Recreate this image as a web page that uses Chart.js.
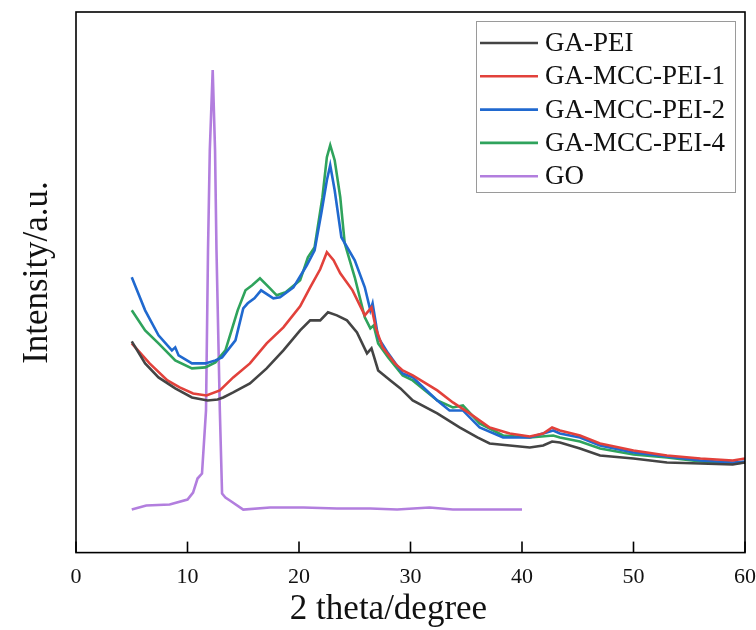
<!DOCTYPE html>
<html><head><meta charset="utf-8">
<script src="https://cdn.jsdelivr.net/npm/chart.js@4"></script>
<style>html,body{margin:0;padding:0;background:#fff}#wrap{width:756px;height:630px;position:relative}</style>
</head><body><div id="wrap"><canvas id="c"></canvas></div>
<script>
const seriesNames = ['GA-PEI', 'GA-MCC-PEI-1', 'GA-MCC-PEI-2', 'GA-MCC-PEI-4', 'GO'];
const seriesColors = ['#444444', '#e2413b', '#2069cf', '#2fa35c', '#b27ede'];
const xTicks = [0, 10, 20, 30, 40, 50, 60];
const xTitle = '2 theta/degree';
const yTitle = 'Intensity/a.u.';

const gaPeiX = [5.0, 6.2, 7.4, 8.9, 10.4, 11.8, 12.7, 13.2, 14.1, 15.6, 17.1, 18.6, 20.1, 21.0, 21.9, 22.6, 23.4, 24.3, 25.2, 26.1, 26.5, 27.1, 28.2, 29.1, 30.2, 32.4, 34.4, 36.0, 37.1, 38.9, 40.7, 41.9, 42.7, 43.4, 45.2, 47.0, 50.0, 53.0, 56.0, 58.9, 60.0];
const gaPeiY = [211, 189, 175, 164, 155, 152, 153, 155, 160, 169, 184, 202, 222, 232, 232, 240, 237, 232, 220, 199, 204, 182, 172, 164, 152, 139, 125, 115, 109, 107, 105, 107, 111, 110, 104, 97, 94, 90, 89, 88, 90];

const mcc1X = [5.0, 6.6, 8.2, 9.3, 10.5, 11.7, 12.9, 14.1, 15.6, 17.1, 18.6, 20.1, 21.0, 21.9, 22.5, 23.1, 23.7, 24.8, 25.9, 26.5, 26.9, 27.5, 28.6, 29.3, 30.2, 32.4, 33.8, 35.3, 37.1, 38.9, 40.7, 41.9, 42.7, 43.4, 45.2, 47.0, 50.0, 53.0, 56.0, 58.9, 60.0];
const mcc1Y = [209, 189, 172, 165, 159, 157, 162, 175, 189, 209, 225, 246, 265, 283, 300, 292, 279, 262, 237, 245, 224, 205, 189, 182, 177, 162, 150, 139, 125, 119, 116, 119, 125, 122, 117, 109, 102, 97, 94, 92, 94];

const mcc2X = [5.0, 6.2, 7.4, 8.6, 8.9, 9.2, 10.4, 11.6, 12.5, 13.1, 14.3, 15.0, 15.4, 16.0, 16.6, 17.7, 18.3, 19.5, 20.7, 21.4, 22.0, 22.5, 22.8, 23.2, 23.8, 25.0, 25.9, 26.4, 26.6, 27.1, 28.0, 29.3, 30.2, 32.4, 33.5, 34.7, 36.2, 38.3, 40.7, 42.8, 43.4, 45.2, 47.0, 50.0, 53.0, 56.0, 58.9, 60.0];
const mcc2Y = [275, 242, 217, 202, 205, 197, 189, 189, 192, 195, 212, 244, 249, 254, 262, 254, 255, 265, 287, 302, 339, 372, 387, 362, 315, 292, 265, 242, 249, 215, 199, 179, 175, 152, 142, 142, 125, 115, 115, 122, 119, 115, 107, 100, 96, 92, 90, 91];

const mcc4X = [5.0, 6.2, 7.4, 8.9, 10.4, 11.6, 12.5, 13.4, 14.5, 15.2, 15.8, 16.5, 17.4, 18.0, 18.8, 20.1, 20.8, 21.4, 22.1, 22.5, 22.8, 23.2, 23.7, 24.1, 25.0, 25.9, 26.4, 26.7, 27.1, 28.0, 29.3, 30.2, 32.4, 33.8, 34.7, 36.2, 38.3, 40.7, 42.8, 43.4, 45.2, 47.0, 50.0, 53.0, 56.0, 58.9, 60.0];
const mcc4Y = [242, 222, 209, 192, 184, 185, 190, 202, 242, 262, 267, 274, 264, 257, 260, 272, 295, 305, 355, 395, 407, 392, 355, 309, 275, 235, 224, 227, 209, 195, 177, 172, 152, 145, 147, 129, 117, 115, 117, 115, 111, 104, 98, 95, 91, 89, 90];

const goX = [5.0, 6.3, 8.4, 10.0, 10.5, 10.9, 11.3, 11.66, 11.84, 12.0, 12.26, 12.47, 12.6, 12.9, 13.1, 13.4, 13.8, 15.0, 17.4, 20.4, 23.4, 26.4, 28.8, 31.7, 33.8, 36.9, 40.0];
const goY = [43, 47, 48, 53, 60, 74, 79, 142, 302, 402, 482, 402, 302, 142, 59, 55, 52, 43, 45, 45, 44, 44, 43, 45, 43, 43, 43];

const seriesX = [gaPeiX, mcc1X, mcc2X, mcc4X, goX];
const seriesY = [gaPeiY, mcc1Y, mcc2Y, mcc4Y, goY];

const FONT = '"Liberation Serif", "Times New Roman", serif';

const datasets = seriesNames.map((name, i) => ({
  label: name,
  data: seriesX[i].map((x, j) => ({x: x, y: seriesY[i][j]})),
  borderColor: seriesColors[i],
  backgroundColor: seriesColors[i],
  borderWidth: 2.6,
  pointRadius: 0,
  tension: 0,
  fill: false
}));

const framePlugin = {
  id: 'frame',
  afterDatasetsDraw(chart) {
    const ctx = chart.ctx, a = chart.chartArea, xs = chart.scales.x;
    ctx.save();
    ctx.strokeStyle = '#000';
    ctx.lineWidth = 1.6;
    ctx.strokeRect(a.left, a.top, a.right - a.left, a.bottom - a.top);
    xTicks.forEach(v => {
      const px = xs.getPixelForValue(v);
      ctx.beginPath();
      ctx.moveTo(px, a.bottom);
      ctx.lineTo(px, a.bottom - 11);
      ctx.stroke();
    });
    // axis titles
    ctx.fillStyle = '#111';
    ctx.font = '35px ' + FONT;
    ctx.textAlign = 'center';
    ctx.textBaseline = 'alphabetic';
    ctx.fillText(xTitle, a.left + 312.5, a.bottom + 66);
    ctx.save();
    ctx.translate(a.left - 29, a.top + 260.5);
    ctx.rotate(-Math.PI / 2);
    ctx.fillText(yTitle, 0, 0);
    ctx.restore();
    // legend inside plot, top right
    const bw = 259, bh = 171;
    const bx = a.right - 269, by = a.top + 9;
    ctx.fillStyle = '#fff';
    ctx.fillRect(bx, by, bw, bh);
    ctx.strokeStyle = '#9a9a9a';
    ctx.lineWidth = 1;
    ctx.strokeRect(bx + 0.5, by + 0.5, bw, bh);
    ctx.font = '27px ' + FONT;
    ctx.textBaseline = 'middle';
    ctx.textAlign = 'left';
    chart.data.datasets.forEach((ds, i) => {
      const yy = by + 22 + i * 33.3;
      ctx.strokeStyle = ds.borderColor;
      ctx.lineWidth = 2.6;
      ctx.beginPath();
      ctx.moveTo(bx + 4, yy);
      ctx.lineTo(bx + 62, yy);
      ctx.stroke();
      ctx.fillStyle = '#111';
      ctx.fillText(ds.label, bx + 69, yy + 1);
    });
    ctx.restore();
  }
};

new Chart(document.getElementById('c'), {
  type: 'line',
  data: { datasets: datasets },
  options: {
    responsive: true,
    maintainAspectRatio: false,
    animation: false,
    events: [],
    layout: { padding: { top: 12, right: 11, left: 76, bottom: 29 } },
    plugins: { legend: { display: false }, tooltip: { enabled: false } },
    scales: {
      x: {
        type: 'linear',
        min: 0, max: 60,
        afterBuildTicks: s => { s.ticks = xTicks.map(v => ({value: v})); },
        afterFit: s => { s.paddingRight = 0; s.paddingLeft = 0; },
        grid: { display: false, drawTicks: false },
        border: { display: false },
        ticks: { color: '#111', font: { family: FONT, size: 22 }, padding: 11, maxRotation: 0 },
        title: { display: false }
      },
      y: {
        type: 'linear',
        min: 0, max: 540,
        afterFit: s => { s.width = 0; },
        grid: { display: false, drawTicks: false },
        border: { display: false },
        ticks: { display: false },
        title: { display: false }
      }
    }
  },
  plugins: [framePlugin]
});
</script>
</body></html>
